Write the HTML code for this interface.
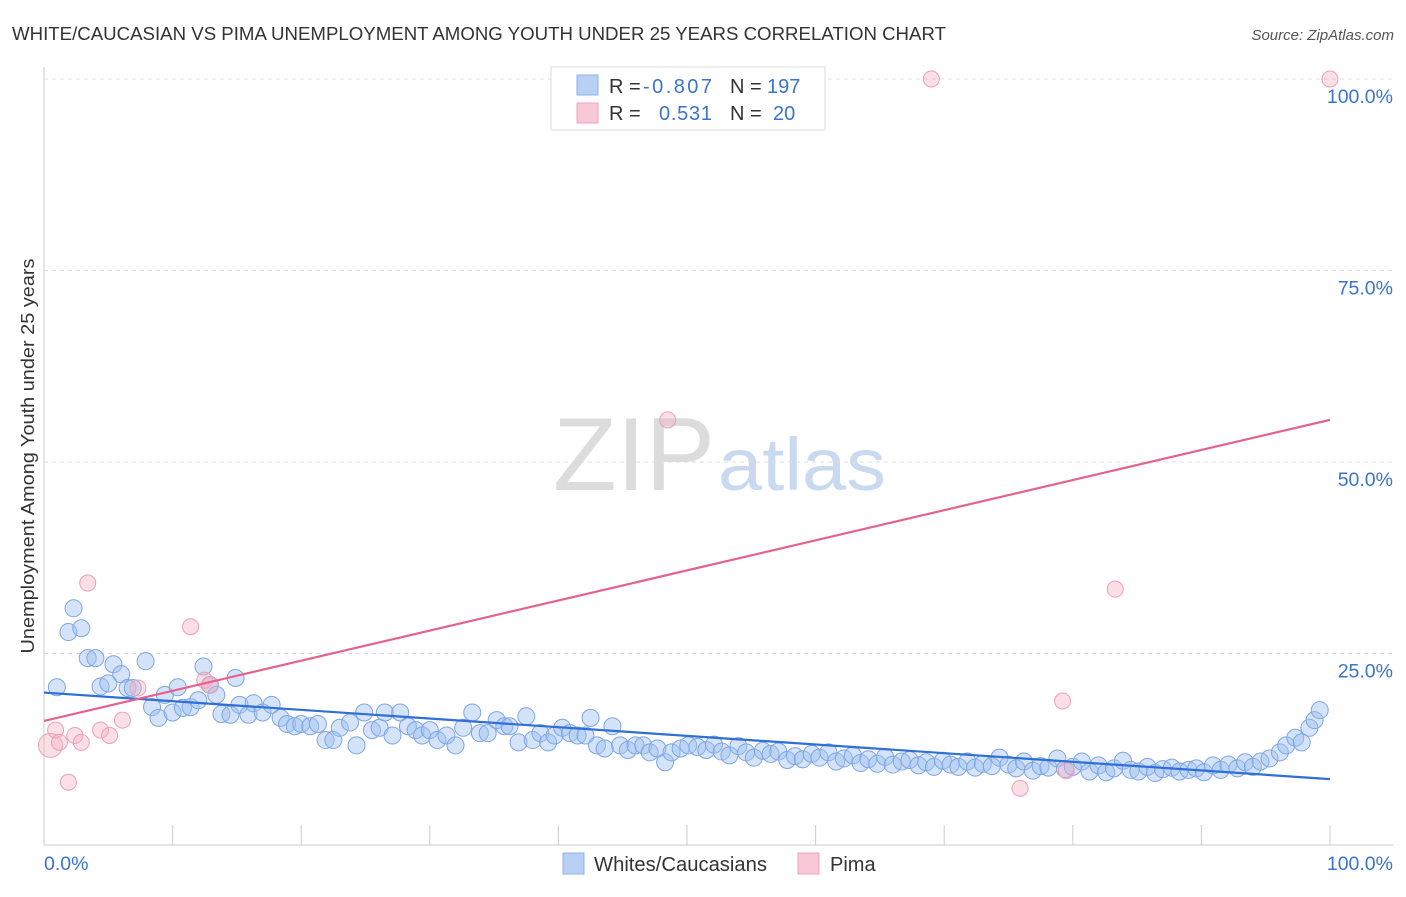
<!DOCTYPE html>
<html><head><meta charset="utf-8"><style>
body{margin:0;background:#fff;font-family:"Liberation Sans",sans-serif;}
svg text{font-family:"Liberation Sans",sans-serif;}
</style></head><body>
<svg id="chart" width="1406" height="892">
<text x="12" y="40" font-size="18.5" fill="#333" textLength="934" lengthAdjust="spacingAndGlyphs">WHITE/CAUCASIAN VS PIMA UNEMPLOYMENT AMONG YOUTH UNDER 25 YEARS CORRELATION CHART</text>
<text x="1394" y="40" font-size="15" fill="#555" font-style="italic" text-anchor="end">Source: ZipAtlas.com</text>
<text x="0" y="0" transform="translate(34,456) rotate(-90)" font-size="18.5" fill="#333" text-anchor="middle" textLength="395" lengthAdjust="spacingAndGlyphs">Unemployment Among Youth under 25 years</text>
<g>
<text x="553" y="490" font-size="104" fill="#dcdcdc" font-family="Liberation Serif,serif" textLength="162" lengthAdjust="spacingAndGlyphs">ZIP</text>
<text x="718" y="490" font-size="74" fill="#c9d9f0" textLength="168" lengthAdjust="spacingAndGlyphs">atlas</text>
</g>
<g id="grid"></g>
<g id="axes"></g>
<g id="marks"></g>
<g>
<rect x="551" y="67" width="274" height="63" fill="#fff" stroke="#ddd"/>
<rect x="577" y="75" width="21" height="20" fill="#b8d0f4" stroke="#8fb0e6"/>
<rect x="577" y="103" width="21" height="20" fill="#f9c8d6" stroke="#eea3bb"/>
<text x="609" y="93" font-size="20" fill="#333">R =</text>
<text x="643" y="93" font-size="20" fill="#3a73d0" textLength="69">-0.807</text>
<text x="730" y="93" font-size="20" fill="#333">N =</text>
<text x="767" y="93" font-size="20" fill="#3a73d0">197</text>
<text x="609" y="120" font-size="20" fill="#333">R =</text>
<text x="659" y="120" font-size="20" fill="#3a73d0" textLength="53">0.531</text>
<text x="730" y="120" font-size="20" fill="#333">N =</text>
<text x="773" y="120" font-size="20" fill="#3a73d0">20</text>
</g>
<g>
<rect x="563" y="853" width="21" height="21" fill="#b8d0f4" stroke="#8fb0e6"/>
<text x="594" y="871" font-size="20" fill="#333" textLength="173" lengthAdjust="spacingAndGlyphs">Whites/Caucasians</text>
<rect x="798" y="853" width="21" height="21" fill="#f9c8d6" stroke="#eea3bb"/>
<text x="830" y="871" font-size="20" fill="#333">Pima</text>
</g>
</svg>
<script>
const yTicks=[25,50,75,100];
const yTickLabels=["25.0%","50.0%","75.0%","100.0%"];
const xTickLabels=["0.0%","100.0%"];
const blueX=[1,1.9,2.3,2.9,3.4,4,4.4,5,5.4,6,6.5,6.9,7.9,8.4,8.9,9.4,10,10.4,10.8,11.4,12,12.4,12.9,13.4,13.8,14.5,14.9,15.2,15.9,16.3,17,17.7,18.4,18.9,19.5,20,20.7,21.3,21.9,22.5,23,23.8,24.3,24.9,25.5,26.1,26.5,27.1,27.7,28.3,28.9,29.4,30,30.6,31.3,32,32.6,33.3,33.9,34.5,35.2,35.8,36.2,36.9,37.5,38,38.6,39.2,39.7,40.3,40.9,41.5,42.1,42.5,43,43.6,44.2,44.8,45.4,46,46.6,47.1,47.7,48.3,48.8,49.5,50.1,50.8,51.5,52.1,52.7,53.3,54,54.6,55.2,55.9,56.5,57.1,57.8,58.4,59,59.7,60.3,61,61.6,62.2,62.9,63.5,64.1,64.8,65.4,66,66.7,67.3,68,68.6,69.2,69.9,70.5,71.1,71.8,72.4,73,73.7,74.3,75,75.6,76.2,76.9,77.5,78.1,78.8,79.4,80,80.7,81.3,82,82.6,83.2,83.9,84.5,85.1,85.8,86.4,87,87.7,88.3,89,89.6,90.2,90.9,91.5,92.1,92.8,93.4,94,94.6,95.3,96.1,96.6,97.3,97.8,98.4,98.8,99.2];
const blueY=[20.6,27.8,30.9,28.3,24.4,24.4,20.7,21.1,23.6,22.3,20.5,20.5,24,18,16.6,19.6,17.3,20.6,17.9,18,18.9,23.3,20.9,19.6,17.1,17,21.8,18.3,17,18.5,17.3,18.3,16.6,15.8,15.5,15.8,15.5,15.8,13.7,13.7,15.3,16,13,17.3,15,15.3,17.3,14.3,17.3,15.5,15,14.3,15,13.7,14.3,13,15.3,17.3,14.6,14.6,16.3,15.5,15.5,13.4,16.8,13.7,14.6,13.4,14.3,15.3,14.6,14.3,14.3,16.6,13,12.6,15.5,13,12.4,13,13,12.1,12.6,10.8,12.1,12.6,13,12.8,12.4,13.1,12.2,11.7,12.9,12.1,11.4,12.3,11.9,12.2,11.1,11.6,11.2,11.9,11.4,12.1,10.9,11.3,11.7,10.7,11.2,10.6,11.5,10.5,10.9,11.1,10.4,10.8,10.2,11.0,10.5,10.2,10.9,10.1,10.6,10.3,11.4,10.5,10.0,10.9,9.7,10.3,10.1,11.3,9.9,10.2,10.9,9.6,10.4,9.5,10.0,11.0,9.8,9.6,10.2,9.4,9.9,10.1,9.6,9.8,10.0,9.5,10.4,9.8,10.5,10.0,10.8,10.2,10.9,11.3,12.1,13,14,13.4,15.3,16.3,17.6];
const pinkX=[0.5,0.9,1.2,1.9,2.4,2.9,3.4,4.4,5.1,6.1,7.3,11.4,12.5,12.9,48.5,69,75.9,79.2,79.5,83.3,100];
const pinkY=[13,15,13.4,8.2,14.3,13.4,34.2,15,14.3,16.3,20.5,28.5,21.5,20.9,55.5,100,7.4,18.8,9.7,33.4,100];
const blueLine=[19.9,8.6];
const pinkLine=[16.2,55.5];
const X0=44,X1=1330,Y0=845,Y100=79;
const sx=v=>X0+(X1-X0)*v/100;
const sy=v=>Y0-(Y0-Y100)*v/100;
const NS="http://www.w3.org/2000/svg";
function mk(t,a,p){const e=document.createElementNS(NS,t);for(const k in a)e.setAttribute(k,a[k]);p.appendChild(e);return e;}
const grid=document.getElementById('grid'),axes=document.getElementById('axes'),marks=document.getElementById('marks');
yTicks.forEach((t,i)=>{
 const l=mk('line',{x1:X0,x2:1393,y1:sy(t),y2:sy(t),stroke:'#ddd','stroke-dasharray':'4,4'},grid);
 
 
 const tx=mk('text',{x:1393,y:sy(t)+24,'font-size':19.5,fill:'#3a73d0','text-anchor':'end'},axes);
 tx.textContent=yTickLabels[i];
 
 
});
let a=mk('line',{x1:X0,x2:X0,y1:67,y2:Y0,stroke:'#ccc'},axes);


a=mk('line',{x1:X0,x2:1393,y1:Y0,y2:Y0,stroke:'#ccc'},axes);


for(let i=0;i<=10;i++){
 const t=mk('line',{x1:sx(i*10),x2:sx(i*10),y1:Y0-20,y2:Y0,stroke:'#ccc'},axes);
 
 
}
[[0,'start',44],[100,'end',1393]].forEach((d,i)=>{
 const tx=mk('text',{x:d[2],y:870,'font-size':19.5,fill:'#3a73d0','text-anchor':d[1]},axes);
 tx.textContent=xTickLabels[i];
 
 
});
blueX.forEach((x,i)=>{
 const c=mk('circle',{cx:sx(x),cy:sy(blueY[i]),r:8.5,fill:'rgba(160,192,240,0.45)',stroke:'#7fa6e2','stroke-width':1},marks);
 
 
});
pinkX.forEach((x,i)=>{
 const c=mk('circle',{cx:sx(x),cy:sy(pinkY[i]),r:i==0?12:8,fill:'rgba(246,175,196,0.4)',stroke:'#eba0b8','stroke-width':1},marks);
 
 
});
let ln=mk('line',{x1:sx(0),x2:sx(100),y1:sy(blueLine[0]),y2:sy(blueLine[1]),stroke:'#2f6fd6','stroke-width':2.2},marks);


ln=mk('line',{x1:sx(0),x2:sx(100),y1:sy(pinkLine[0]),y2:sy(pinkLine[1]),stroke:'#e4638e','stroke-width':2.2},marks);


</script>
</body></html>
